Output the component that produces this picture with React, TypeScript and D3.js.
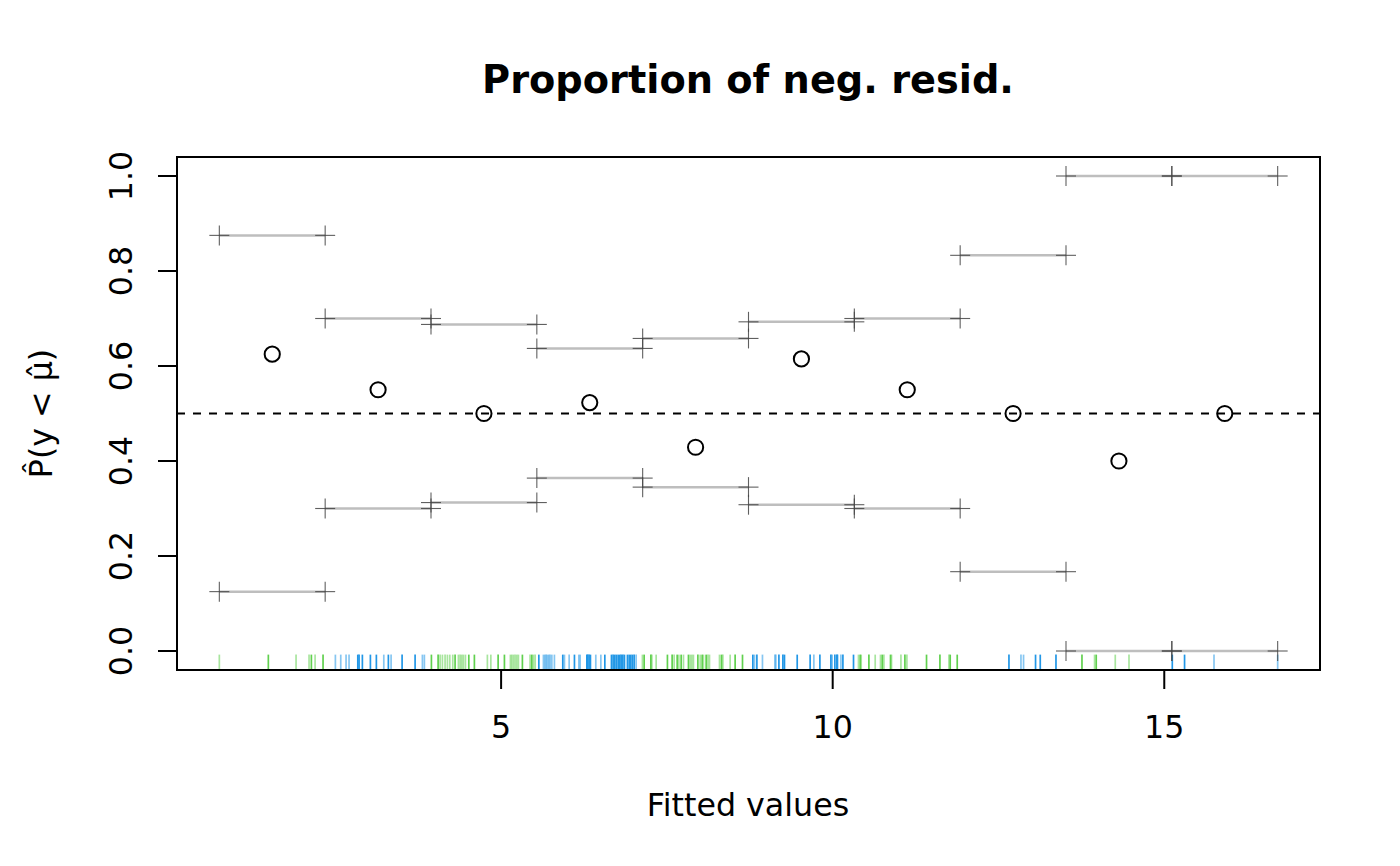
import React from "react";
import * as d3 from "d3";

// ---- data ----
const binProportion = [0.625, 0.55, 0.5, 0.523, 0.429, 0.615, 0.55, 0.5, 0.4, 0.5];
const binUpper = [0.875, 0.7, 0.6875, 0.637, 0.658, 0.693, 0.7, 0.833, 1.0, 1.0];
const binLower = [0.125, 0.3, 0.3125, 0.364, 0.345, 0.308, 0.3, 0.167, 0.0, 0.0];
const referenceLevel = 0.5;

const greenDark = [1.49, 2.139, 2.315, 3.949, 4.05, 4.306, 4.513, 4.597, 4.955, 5.05, 5.321, 5.463, 7.157, 7.258, 7.508, 7.579, 7.655, 7.715, 7.825, 7.967, 8.032, 8.092, 8.323, 8.529, 8.64, 10.415, 10.546, 10.747, 10.872, 11.089, 11.415, 11.617, 11.772, 11.878, 13.759, 13.974];
const greenLight = [0.751, 1.908, 2.104, 2.195, 4.08, 4.115, 4.155, 4.19, 4.226, 4.271, 4.356, 4.382, 4.407, 4.431, 4.462, 4.793, 4.845, 5.14, 5.161, 5.186, 5.211, 5.237, 5.261, 5.437, 5.487, 5.513, 7.131, 7.273, 7.338, 7.609, 7.68, 7.75, 7.851, 7.876, 7.9, 8.002, 8.051, 8.118, 8.142, 8.293, 8.344, 8.454, 10.389, 10.43, 10.641, 10.721, 10.772, 10.887, 11.029, 11.119, 11.753, 13.949, 14.261, 14.468];
const blueDark = [2.839, 2.858, 2.908, 3.029, 3.119, 3.3, 3.507, 3.703, 5.569, 5.93, 6.106, 6.293, 6.308, 6.327, 6.347, 6.564, 6.664, 6.689, 6.715, 6.739, 6.765, 6.79, 6.81, 6.836, 6.86, 6.905, 6.931, 6.956, 6.98, 7.006, 8.796, 8.857, 9.189, 9.249, 9.273, 9.465, 9.66, 9.807, 9.973, 10.033, 10.063, 10.072, 10.154, 10.314, 12.658, 13.059, 13.13, 13.367, 15.121, 15.306];
const blueLight = [2.501, 2.582, 2.662, 2.707, 3.231, 3.341, 3.813, 3.843, 5.638, 5.659, 5.679, 5.698, 5.719, 5.739, 5.765, 5.804, 5.955, 6.026, 6.172, 6.192, 6.428, 6.504, 7.036, 8.821, 8.941, 9.128, 9.143, 9.716, 9.992, 10.124, 12.839, 12.878, 15.75, 16.71];

const xTicks = [5, 10, 15];
const yTicks = [0, 0.2, 0.4, 0.6, 0.8, 1.0];

const title = "Proportion of neg. resid.";
const xLabel = "Fitted values";
const yLabel = "P\u0302(y < \u03BC\u0302)";

export default function App() {
  const W = 1400, H = 866;
  const left = 177, right = 1320, top = 157, bottom = 670;
  const font = "DejaVu Sans, Liberation Sans, sans-serif";
  const fs = 31.7;

  const all = [...greenDark, ...greenLight, ...blueDark, ...blueLight];
  const [mn, mx] = d3.extent(all) as [number, number];
  const ext = 0.04 * (mx - mn);
  const x = d3.scaleLinear().domain([mn - ext, mx + ext]).range([left, right]);
  const y = d3.scaleLinear().domain([-0.04, 1.04]).range([bottom, top]);

  const nb = binProportion.length;
  const edges = d3.range(nb + 1).map((i) => mn + (i * (mx - mn)) / nb);

  const rugTop = bottom - 0.03 * (bottom - top);
  const green = "#61D04F", blue = "#2297E6";
  const rug = (vals: number[], col: string, op: number, key: string) =>
    vals.map((v, i) => (
      <line key={key + i} x1={x(v)} x2={x(v)} y1={rugTop} y2={bottom} stroke={col} strokeOpacity={op} strokeWidth={1.7} />
    ));

  const cross = (cx: number, cy: number, key: string) => (
    <g key={key} stroke="#444" strokeWidth={1.1} strokeOpacity={0.85}>
      <line x1={cx - 10} x2={cx + 10} y1={cy} y2={cy} />
      <line x1={cx} x2={cx} y1={cy - 10} y2={cy + 10} />
    </g>
  );

  return (
    <svg width={W} height={H} style={{ position: "absolute", left: 0, top: 0, background: "#fff" }} fontFamily={font}>
      <rect x={0} y={0} width={W} height={H} fill="#fff" />
      {/* title */}
      <text x={748} y={93} textAnchor="middle" fontSize={38.3} fontWeight="bold">{title}</text>

      {/* rug */}
      {rug(greenLight, green, 0.55, "gl")}
      {rug(greenDark, green, 1, "gd")}
      {rug(blueLight, blue, 0.55, "bl")}
      {rug(blueDark, blue, 1, "bd")}

      {/* reference line */}
      <line x1={left} x2={right} y1={y(referenceLevel)} y2={y(referenceLevel)} stroke="#000" strokeWidth={2} strokeDasharray="8,8" />

      {/* interval lines */}
      {binUpper.map((u, i) => (
        <line key={"u" + i} x1={x(edges[i])} x2={x(edges[i + 1])} y1={y(u)} y2={y(u)} stroke="#bebebe" strokeWidth={2.5} />
      ))}
      {binLower.map((l, i) => (
        <line key={"l" + i} x1={x(edges[i])} x2={x(edges[i + 1])} y1={y(l)} y2={y(l)} stroke="#bebebe" strokeWidth={2.5} />
      ))}
      {binUpper.map((u, i) => [cross(x(edges[i]), y(u), "cu0" + i), cross(x(edges[i + 1]), y(u), "cu1" + i)])}
      {binLower.map((l, i) => [cross(x(edges[i]), y(l), "cl0" + i), cross(x(edges[i + 1]), y(l), "cl1" + i)])}

      {/* proportions */}
      {binProportion.map((p, i) => (
        <circle key={"p" + i} cx={x((edges[i] + edges[i + 1]) / 2)} cy={y(p)} r={7.6} fill="none" stroke="#000" strokeWidth={2} />
      ))}

      {/* box */}
      <rect x={left} y={top} width={right - left} height={bottom - top} fill="none" stroke="#000" strokeWidth={2} />

      {/* x axis */}
      {xTicks.map((t) => (
        <g key={"xt" + t}>
          <line x1={x(t)} x2={x(t)} y1={bottom} y2={bottom + 19} stroke="#000" strokeWidth={2} />
          <text x={x(t)} y={738} textAnchor="middle" fontSize={fs}>{t}</text>
        </g>
      ))}
      {/* y axis */}
      {yTicks.map((t) => (
        <g key={"yt" + t}>
          <line x1={left - 19} x2={left} y1={y(t)} y2={y(t)} stroke="#000" strokeWidth={2} />
          <text transform={`translate(131.5,${y(t)}) rotate(-90)`} textAnchor="middle" fontSize={fs}>{d3.format(".1f")(t)}</text>
        </g>
      ))}

      <text x={748} y={816} textAnchor="middle" fontSize={fs}>{xLabel}</text>
      <text transform={`translate(52,${(top + bottom) / 2}) rotate(-90)`} textAnchor="middle" fontSize={fs}>{yLabel}</text>
    </svg>
  );
}
